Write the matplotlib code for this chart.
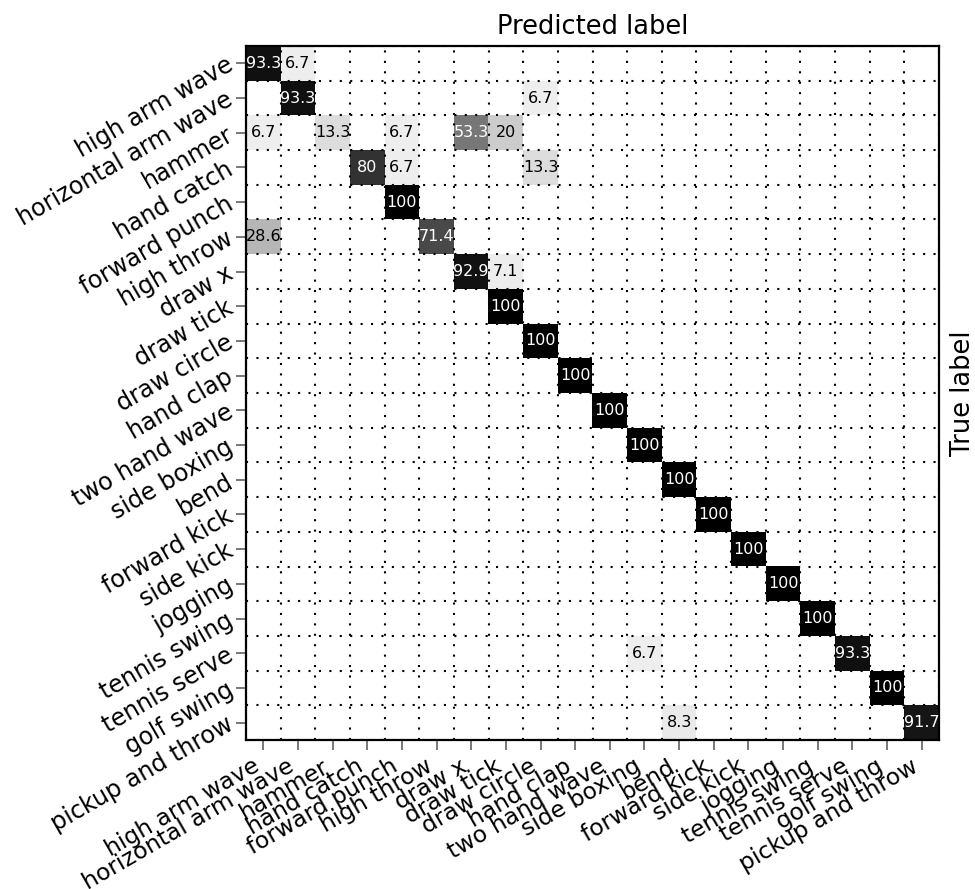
import numpy as np
import matplotlib
matplotlib.use('Agg')
import matplotlib.pyplot as plt

# action classes, same order for true and predicted axes
classes = ['high arm wave', 'horizontal arm wave', 'hammer', 'hand catch',
           'forward punch', 'high throw', 'draw x', 'draw tick', 'draw circle',
           'hand clap', 'two hand wave', 'side boxing', 'bend', 'forward kick',
           'side kick', 'jogging', 'tennis swing', 'tennis serve', 'golf swing',
           'pickup and throw']

# diagonal recognition rates (%)
diag_rates = [93.3, 93.3, 13.3, 80, 100, 71.4, 92.9, 100, 100, 100,
              100, 100, 100, 100, 100, 100, 100, 93.3, 100, 91.7]

# off-diagonal confusions: (true row, predicted col, %)
confusions = [(0, 1, 6.7),
              (1, 8, 6.7),
              (2, 0, 6.7), (2, 4, 6.7), (2, 6, 53.3), (2, 7, 20),
              (3, 4, 6.7), (3, 8, 13.3),
              (5, 0, 28.6),
              (6, 7, 7.1),
              (17, 11, 6.7),
              (19, 12, 8.3)]

n = len(classes)
cm = np.zeros((n, n))
for i, v in enumerate(diag_rates):
    cm[i, i] = v
for r, c, v in confusions:
    cm[r, c] = v

fig = plt.figure(figsize=(9.75, 8.89), dpi=100)
ax = fig.add_axes([246 / 975, 1 - 740 / 889, 693 / 975, 694 / 889])

ax.imshow(cm, cmap='binary', vmin=0, vmax=100, interpolation='nearest', aspect='auto')

for i in range(n):
    for j in range(n):
        v = cm[i, j]
        if v > 0:
            ax.text(j, i, '{:g}'.format(v), ha='center', va='center', fontsize=11.5,
                    color='white' if v > 50 else 'black')

ax.set_xticks(np.arange(n))
ax.set_yticks(np.arange(n))
ax.set_xticklabels(classes, rotation=30, ha='right', fontsize=16.8)
ax.set_yticklabels(classes, rotation=30, ha='right', va='center',
                   rotation_mode='anchor', fontsize=17.2)
ax.set_xticks(np.arange(-0.5, n, 1), minor=True)
ax.set_yticks(np.arange(-0.5, n, 1), minor=True)
ax.tick_params(which='minor', length=0)
ax.tick_params(which='major', length=7, width=1.1, color='#555555',
               top=False, right=False)
ax.grid(which='minor', color='black', linestyle=(0, (1, 4)), linewidth=1.5)
ax.set_xlim(-0.5, n - 0.5)
ax.set_ylim(n - 0.5, -0.5)

for s in ax.spines.values():
    s.set_linewidth(1.6)

ax.xaxis.set_label_position('top')
ax.set_xlabel('Predicted label', fontsize=18.5, labelpad=9)
ax.yaxis.set_label_position('right')
ax.set_ylabel('True label', fontsize=18.5, labelpad=8)

plt.savefig('out.png', dpi=100)
